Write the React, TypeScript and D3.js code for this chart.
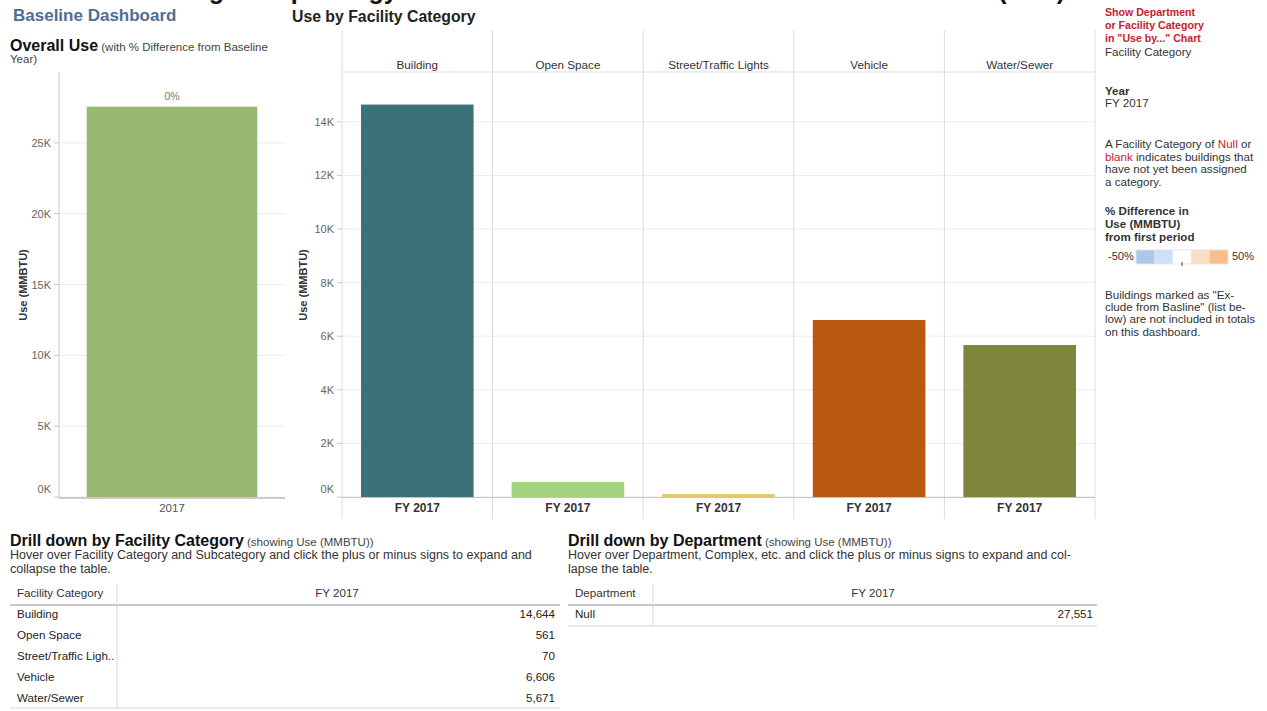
import React from "react";
import * as d3 from "d3";

// ---- data ----
const categories = ["Building", "Open Space", "Street/Traffic Lights", "Vehicle", "Water/Sewer"];
const tableCategories = ["Building", "Open Space", "Street/Traffic Ligh..", "Vehicle", "Water/Sewer"];
const categoryUse = [14644, 561, 70, 6606, 5671];
const categoryColors = ["#3b7179", "#a4d37f", "#e8c763", "#b9580f", "#7f853c"];
const periodLabel = "FY 2017";

const overallYears = ["2017"];
const overallUse = [27551];
const overallPctDiff = ["0%"];

const departments = ["Null"];
const departmentUse = [27551];

const overallTicks = [0, 5000, 10000, 15000, 20000, 25000];
const categoryTicks = [0, 2000, 4000, 6000, 8000, 10000, 12000, 14000];

const legendLabels = ["-50%", "50%"];
const legendColors = ["#a9c8ec", "#cfe0f5", "#ffffff", "#fcdcc2", "#f9bd8a"];

const FONT = "'Liberation Sans', Arial, sans-serif";
const fmtK = (v: number) => `${v / 1000}K`;
const fmtNum = d3.format(",");

export default function App() {
  // Overall use chart
  const ovY = d3.scaleLinear().domain([0, 30000]).range([497, 72]);
  const ovX = d3.scaleBand().domain(overallYears).range([59, 285]).paddingInner(0.2).paddingOuter(0.13);

  // Use by facility category chart (one panel per category)
  const panelX = d3.scaleBand().domain(categories).range([342, 1095]);
  const catY = d3.scaleLinear().domain([0, 15860]).range([497, 72]);
  const barPad = 19;

  const grid = "#ececec";
  const axisCol = "#c8c8c8";
  const tickText = "#666";

  const rightText = (lines: { t: React.ReactNode; y: number; bold?: boolean; color?: string; size?: number }[]) =>
    lines.map((l, i) => (
      <text key={i} x={1105} y={l.y} fontSize={l.size || 11.6} fontWeight={l.bold ? "bold" : "normal"} fill={l.color || "#333"}>
        {l.t}
      </text>
    ));

  const red = "#c8202f";
  const legendW = 92 / legendColors.length;

  return (
    <svg width={1267} height={711} style={{ position: "absolute", left: 0, top: 0, background: "#fff" }} fontFamily={FONT}>
      {/* page title, running off the top edge */}
      <text x={1065} y={-1} textAnchor="end" fontSize={25} fontWeight="bold" fill="#111">
        Tracking Group Energy Use Across All Facilities and Divisions Over Time (YTD)
      </text>

      <text x={13} y={21} fontSize={17} fontWeight="bold" fill="#4f6e92">Baseline Dashboard</text>
      <text x={292} y={22} fontSize={15.8} fontWeight="bold" fill="#222">Use by Facility Category</text>

      {/* Overall use */}
      <text x={10} y={51} fill="#111">
        <tspan fontSize={16} fontWeight="bold">Overall Use</tspan>
        <tspan fontSize={11.5} fill="#444"> (with % Difference from Baseline</tspan>
      </text>
      <text x={10} y={63} fontSize={11.5} fill="#444">Year)</text>

      {overallTicks.map((t) => (
        <g key={t}>
          <line x1={59} x2={285} y1={ovY(t)} y2={ovY(t)} stroke={grid} />
          <line x1={54} x2={59} y1={ovY(t)} y2={ovY(t)} stroke={axisCol} />
          <text x={51} y={t === 0 ? ovY(t) - 4 : ovY(t) + 4} textAnchor="end" fontSize={11} fill={tickText}>
            {fmtK(t)}
          </text>
        </g>
      ))}
      {overallYears.map((yr, i) => (
        <g key={yr}>
          <rect x={ovX(yr)} y={ovY(overallUse[i])} width={ovX.bandwidth()} height={ovY(0) - ovY(overallUse[i])} fill="#98b86f" />
          <text x={ovX(yr)! + ovX.bandwidth() / 2} y={ovY(overallUse[i]) - 7} textAnchor="middle" fontSize={10.5} fill="#777">
            {overallPctDiff[i]}
          </text>
          <text x={ovX(yr)! + ovX.bandwidth() / 2} y={512} textAnchor="middle" fontSize={11.5} fill="#555">{yr}</text>
        </g>
      ))}
      <line x1={59} x2={59} y1={72} y2={498} stroke={axisCol} />
      <line x1={59} x2={285} y1={498} y2={498} stroke="#bbb" strokeWidth={1.5} />
      <text transform="translate(27,285) rotate(-90)" textAnchor="middle" fontSize={11} fontWeight="bold" fill="#333">
        Use (MMBTU)
      </text>

      {/* Use by facility category */}
      {categoryTicks.map((t) => (
        <g key={t}>
          <line x1={342} x2={1095} y1={catY(t)} y2={catY(t)} stroke={grid} />
          <line x1={337} x2={342} y1={catY(t)} y2={catY(t)} stroke={axisCol} />
          <text x={334} y={t === 0 ? catY(t) - 4 : catY(t) + 4} textAnchor="end" fontSize={11} fill={tickText}>
            {fmtK(t)}
          </text>
        </g>
      ))}
      <text transform="translate(307,285) rotate(-90)" textAnchor="middle" fontSize={11} fontWeight="bold" fill="#333">
        Use (MMBTU)
      </text>
      {categories.map((c, i) => {
        const x0 = panelX(c)!;
        const w = panelX.bandwidth();
        return (
          <g key={c}>
            <text x={x0 + w / 2} y={69} textAnchor="middle" fontSize={11.7} fill="#333">{c}</text>
            <rect
              x={x0 + barPad}
              y={catY(categoryUse[i]) - (categoryUse[i] < 200 ? 1 : 0)}
              width={w - barPad * 2}
              height={catY(0) - catY(categoryUse[i]) + (categoryUse[i] < 200 ? 1 : 0)}
              fill={categoryColors[i]}
            />
            <text x={x0 + w / 2} y={512} textAnchor="middle" fontSize={12} fontWeight="bold" fill="#333">{periodLabel}</text>
          </g>
        );
      })}
      {d3.range(categories.length + 1).map((i) => {
        const x = i < categories.length ? panelX(categories[i])! : 1095;
        return <line key={i} x1={x} x2={x} y1={30} y2={519} stroke="#dcdcdc" />;
      })}
      <line x1={342} x2={1095} y1={72} y2={72} stroke="#dcdcdc" />
      <line x1={342} x2={1095} y1={497.5} y2={497.5} stroke="#c4c4c4" />

      {/* Right-hand side notes and legend */}
      {rightText([
        { t: "Show Department", y: 16, bold: true, color: red, size: 10.6 },
        { t: "or Facility Category", y: 29, bold: true, color: red, size: 10.6 },
        { t: "in \"Use by...\" Chart", y: 42, bold: true, color: red, size: 10.6 },
        { t: "Facility Category", y: 56 },
        { t: "Year", y: 95, bold: true },
        { t: "FY 2017", y: 107 },
        {
          t: (
            <>
              A Facility Category of <tspan fill={red}>Null</tspan> or
            </>
          ),
          y: 148,
        },
        {
          t: (
            <>
              <tspan fill={red}>blank</tspan> indicates buildings that
            </>
          ),
          y: 161,
        },
        { t: "have not yet been assigned", y: 173 },
        { t: "a category.", y: 186 },
        { t: "% Difference in", y: 215, bold: true },
        { t: "Use (MMBTU)", y: 228, bold: true },
        { t: "from first period", y: 241, bold: true },
        { t: "Buildings marked as \"Ex-", y: 299 },
        { t: "clude from Basline\" (list be-", y: 311 },
        { t: "low) are not included in totals", y: 323 },
        { t: "on this dashboard.", y: 336 },
      ])}
      <text x={1108} y={260} fontSize={11} fill="#333">{legendLabels[0]}</text>
      <text x={1232} y={260} fontSize={11} fill="#333">{legendLabels[1]}</text>
      {legendColors.map((c, i) => (
        <rect key={i} x={1136 + i * legendW} y={250} width={legendW} height={14} fill={c} />
      ))}
      <rect x={1136} y={250} width={92} height={14} fill="none" stroke="#e4e4e4" />
      <line x1={1182} x2={1182} y1={262} y2={266} stroke="#444" />

      {/* Drill down by facility category */}
      <text x={10} y={546} fill="#111">
        <tspan fontSize={16} fontWeight="bold">Drill down by Facility Category</tspan>
        <tspan fontSize={11.5} fill="#444"> (showing Use (MMBTU))</tspan>
      </text>
      <text x={10} y={559} fontSize={12.5} fill="#333">
        Hover over Facility Category and Subcategory and click the plus or minus signs to expand and
      </text>
      <text x={10} y={573} fontSize={12.5} fill="#333">collapse the table.</text>
      <text x={17} y={597} fontSize={11.6} fill="#333">Facility Category</text>
      <text x={337} y={597} textAnchor="middle" fontSize={11.6} fill="#333">{periodLabel}</text>
      <line x1={10} x2={560} y1={605} y2={605} stroke="#c8c8c8" strokeWidth={2} />
      <line x1={117} x2={117} y1={584} y2={708} stroke="#d4d4d4" />
      {tableCategories.map((c, i) => (
        <g key={c}>
          <text x={17} y={618 + i * 21} fontSize={11.6} fill="#222">{c}</text>
          <text x={555} y={618 + i * 21} textAnchor="end" fontSize={11.6} fill="#222">{fmtNum(categoryUse[i])}</text>
        </g>
      ))}
      <line x1={10} x2={560} y1={708} y2={708} stroke="#d4d4d4" />

      {/* Drill down by department */}
      <text x={568} y={546} fill="#111">
        <tspan fontSize={16} fontWeight="bold">Drill down by Department</tspan>
        <tspan fontSize={11.5} fill="#444"> (showing Use (MMBTU))</tspan>
      </text>
      <text x={568} y={559} fontSize={12.5} fill="#333">
        Hover over Department, Complex, etc. and click the plus or minus signs to expand and col-
      </text>
      <text x={568} y={573} fontSize={12.5} fill="#333">lapse the table.</text>
      <text x={575} y={597} fontSize={11.6} fill="#333">Department</text>
      <text x={873} y={597} textAnchor="middle" fontSize={11.6} fill="#333">{periodLabel}</text>
      <line x1={568} x2={1097} y1={605} y2={605} stroke="#c8c8c8" strokeWidth={2} />
      <line x1={653} x2={653} y1={584} y2={626} stroke="#d4d4d4" />
      {departments.map((d, i) => (
        <g key={d}>
          <text x={575} y={618 + i * 21} fontSize={11.6} fill="#222">{d}</text>
          <text x={1093} y={618 + i * 21} textAnchor="end" fontSize={11.6} fill="#222">{fmtNum(departmentUse[i])}</text>
        </g>
      ))}
      <line x1={568} x2={1097} y1={626} y2={626} stroke="#d4d4d4" />
    </svg>
  );
}
